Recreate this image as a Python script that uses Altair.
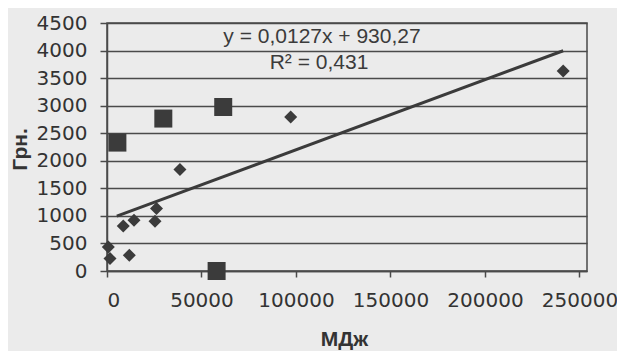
import altair as alt
import pandas as pd

# Series 1 (diamonds)
diamond_x = [700, 1600, 8600, 11800, 14300, 25400, 26200, 38600, 97200, 241400]
diamond_y = [435, 225, 817, 285, 920, 902, 1132, 1840, 2795, 3630]
# Series 2 (squares)
square_x = [5500, 29800, 61500, 58000]
square_y = [2330, 2766, 2976, 0]
# Trend line (from printed equation)
slope = 0.0127
intercept = 930.27
trend_range = [5200, 241400]
eq_labels = ["y = 0,0127x + 930,27", "R² = 0,431"]
x_ticks = [0, 50000, 100000, 150000, 200000, 250000]
y_ticks = [0, 500, 1000, 1500, 2000, 2500, 3000, 3500, 4000, 4500]

INK = "#3b3b3b"
BG = "#ebebeb"

df_d = pd.DataFrame({"x": diamond_x, "y": diamond_y})
df_s = pd.DataFrame({"x": square_x, "y": square_y})
df_t = pd.DataFrame({"x": trend_range, "y": [slope * v + intercept for v in trend_range]})

x_enc = alt.X("x:Q", scale=alt.Scale(domain=[0, 254000], nice=False, zero=False),
              axis=alt.Axis(values=x_ticks, format="d", grid=False, title="МДж",
                            titleX=237, titleY=68, titleAlign="center", titleBaseline="middle",
                            titleFontSize=21, tickSize=6, labelPadding=13))
y_enc = alt.Y("y:Q", scale=alt.Scale(domain=[0, 4500], nice=False),
              axis=alt.Axis(values=y_ticks, format="d", grid=True, title="Грн.",
                            titleX=-87, titleY=126, titleAlign="center", titleBaseline="middle",
                            tickSize=7, labelPadding=13))

diamonds = alt.Chart(df_d).mark_point(shape="diamond", filled=True, size=169,
                                      color=INK, opacity=1).encode(x=x_enc, y=y_enc)
squares = alt.Chart(df_s).mark_point(shape="square", filled=True, size=324,
                                     color=INK, opacity=1).encode(x=x_enc, y=y_enc)
trend = alt.Chart(df_t).mark_line(color=INK, strokeWidth=3).encode(x=x_enc, y=y_enc)

eq1 = alt.Chart(pd.DataFrame({"t": [eq_labels[0]]})).mark_text(
    font="Liberation Sans", fontSize=21, color=INK, align="center", baseline="middle"
).encode(text="t:N", x=alt.value(215), y=alt.value(14))
eq2 = alt.Chart(pd.DataFrame({"t": [eq_labels[1]]})).mark_text(
    font="Liberation Sans", fontSize=21, color=INK, align="center", baseline="middle"
).encode(text="t:N", x=alt.value(212), y=alt.value(40))

chart = alt.layer(trend, diamonds, squares, eq1, eq2).properties(
    width=480, height=248,
    autosize=alt.AutoSizeParams(type="none"),
    padding={"left": 99, "top": 15, "right": 30, "bottom": 80},
    background=BG,
).configure_view(
    stroke="#4a4a4a", strokeWidth=1.5, fill=BG
).configure_axis(
    labelFont="DejaVu Sans", labelFontSize=20, labelColor="#333333",
    titleFont="Liberation Sans", titleFontSize=21, titleFontWeight="bold", titleColor="#333333",
    domainColor="#4a4a4a", domainWidth=1.5, tickColor="#4a4a4a", tickWidth=1.5,
    gridColor="#4a4a4a", gridWidth=1.5, gridOpacity=1
)

chart.save("out.html", embed_options={"renderer": "svg", "actions": False})
